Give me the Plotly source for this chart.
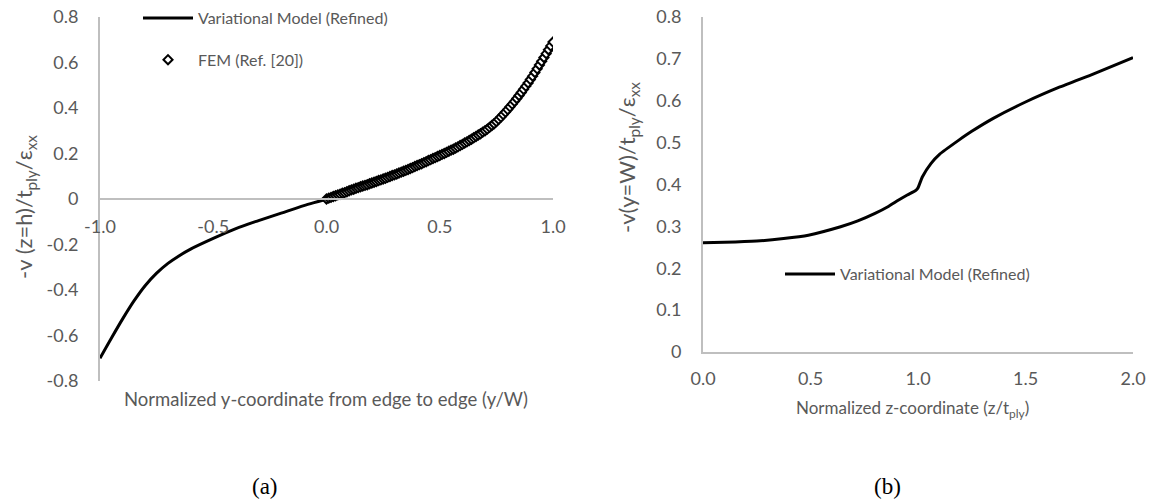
import plotly.graph_objects as go

# ---------------- data ----------------
# (a) Variational model, -v(z=h)/t_ply/eps_xx vs y/W
var_a_x = [-1.0, -0.95, -0.9, -0.85, -0.8, -0.75, -0.7, -0.65, -0.6, -0.5, -0.4, -0.3, -0.2, -0.1, 0.0,
           0.1, 0.2, 0.3, 0.4, 0.5, 0.6, 0.7, 0.75, 0.8, 0.85, 0.9, 0.95, 1.0]
var_a_y = [-0.700, -0.612, -0.527, -0.448, -0.380, -0.326, -0.283, -0.249, -0.220, -0.173, -0.130, -0.095, -0.062, -0.029, 0.000,
           0.036, 0.070, 0.106, 0.147, 0.191, 0.240, 0.300, 0.340, 0.393, 0.455, 0.525, 0.605, 0.690]

# (a) FEM (Ref. [20])
fem_x = [0.00, 0.01, 0.02, 0.03, 0.04, 0.05, 0.06, 0.07, 0.08, 0.09,
         0.10, 0.11, 0.12, 0.13, 0.14, 0.15, 0.16, 0.17, 0.18, 0.19,
         0.20, 0.21, 0.22, 0.23, 0.24, 0.25, 0.26, 0.27, 0.28, 0.29,
         0.30, 0.31, 0.32, 0.33, 0.34, 0.35, 0.36, 0.37, 0.38, 0.39,
         0.40, 0.41, 0.42, 0.43, 0.44, 0.45, 0.46, 0.47, 0.48, 0.49,
         0.50, 0.51, 0.52, 0.53, 0.54, 0.55, 0.56, 0.57, 0.58, 0.59,
         0.60, 0.61, 0.62, 0.63, 0.64, 0.65, 0.66, 0.67, 0.68, 0.69,
         0.70, 0.71, 0.72, 0.73, 0.74, 0.75, 0.76, 0.77, 0.78, 0.79,
         0.80, 0.81, 0.82, 0.83, 0.84, 0.85, 0.86, 0.87, 0.88, 0.89,
         0.90, 0.91, 0.92, 0.93, 0.94, 0.95, 0.96, 0.97, 0.98, 0.99, 1.00]
fem_y = [0.000, 0.004, 0.007, 0.011, 0.014, 0.018, 0.021, 0.025, 0.028, 0.032,
         0.036, 0.040, 0.043, 0.047, 0.050, 0.054, 0.057, 0.060, 0.063, 0.067,
         0.070, 0.074, 0.077, 0.081, 0.084, 0.088, 0.091, 0.095, 0.099, 0.103,
         0.106, 0.110, 0.114, 0.118, 0.122, 0.126, 0.130, 0.134, 0.138, 0.143,
         0.147, 0.151, 0.155, 0.160, 0.164, 0.169, 0.173, 0.178, 0.182, 0.187,
         0.191, 0.196, 0.200, 0.205, 0.210, 0.215, 0.219, 0.224, 0.229, 0.235,
         0.240, 0.246, 0.251, 0.257, 0.263, 0.269, 0.275, 0.281, 0.287, 0.294,
         0.300, 0.307, 0.315, 0.323, 0.331, 0.340, 0.350, 0.360, 0.371, 0.382,
         0.393, 0.405, 0.417, 0.429, 0.442, 0.455, 0.468, 0.482, 0.496, 0.510,
         0.525, 0.540, 0.556, 0.572, 0.589, 0.605, 0.622, 0.639, 0.656, 0.673, 0.690]

# (b) Variational model, -v(y=W)/t_ply/eps_xx vs z/t_ply
var_b_x = [0.0, 0.1, 0.25, 0.375, 0.49, 0.64, 0.72, 0.80, 0.86, 0.91, 0.95, 0.99, 1.0, 1.02, 1.06, 1.1, 1.19, 1.25,
           1.35, 1.5, 1.66, 1.82, 2.0]
var_b_y = [0.261, 0.262, 0.265, 0.271, 0.279, 0.299, 0.313, 0.331, 0.347, 0.363, 0.375, 0.386, 0.392, 0.418, 0.450, 0.472,
           0.506, 0.527, 0.558, 0.597, 0.633, 0.665, 0.703]

# tick labels
a_xticks = [-1.0, -0.5, 0.0, 0.5, 1.0]
a_xlabels = ["-1.0", "-0.5", "0.0", "0.5", "1.0"]
a_yticks = [-0.8, -0.6, -0.4, -0.2, 0.0, 0.2, 0.4, 0.6, 0.8]
a_ylabels = ["-0.8", "-0.6", "-0.4", "-0.2", "0", "0.2", "0.4", "0.6", "0.8"]
b_xticks = [0.0, 0.5, 1.0, 1.5, 2.0]
b_xlabels = ["0.0", "0.5", "1.0", "1.5", "2.0"]
b_yticks = [0.0, 0.1, 0.2, 0.3, 0.4, 0.5, 0.6, 0.7, 0.8]
b_ylabels = ["0", "0.1", "0.2", "0.3", "0.4", "0.5", "0.6", "0.7", "0.8"]

# ---------------- figure ----------------
W, H = 1151, 502
FONT = "Lato"
GRAY = "#595959"
AXC = "#BFBFBF"

def px_x(p):
    return p / W

def px_y(p):
    return 1 - p / H

fig = go.Figure()
fig.add_trace(go.Scatter(x=var_a_x, y=var_a_y, mode="lines", name="Variational Model (Refined)",
                         line=dict(color="black", width=3, shape="spline", smoothing=0.8),
                         xaxis="x", yaxis="y", legend="legend", legendgroup="a1"))
fig.add_trace(go.Scatter(x=fem_x, y=fem_y, mode="markers", name="FEM (Ref. [20])",
                         marker=dict(symbol="diamond", size=7, color="white",
                                     line=dict(color="black", width=2)),
                         xaxis="x", yaxis="y", legend="legend", legendgroup="a2"))
fig.add_trace(go.Scatter(x=var_b_x, y=var_b_y, mode="lines", name="Variational Model (Refined)",
                         line=dict(color="black", width=3, shape="spline", smoothing=0.5),
                         xaxis="x2", yaxis="y2", legend="legend2"))

ya_dom = [px_y(381), px_y(17)]
yb_dom = [px_y(352), px_y(17)]
tickfont = dict(family=FONT, size=18, color=GRAY)
common = dict(showgrid=False, zeroline=False, showline=True, linecolor=AXC, linewidth=2,
              ticks="outside", tickcolor="rgba(0,0,0,0)", tickfont=tickfont, automargin=False,
              fixedrange=True)

fig.update_layout(
    width=W, height=H,
    margin=dict(l=0, r=0, t=0, b=0),
    paper_bgcolor="white", plot_bgcolor="white",
    font=dict(family=FONT, color=GRAY),
    xaxis=dict(domain=[px_x(100), px_x(553)], range=[-1, 1], anchor="free",
               position=(ya_dom[0] + ya_dom[1]) / 2, tickvals=a_xticks, ticktext=a_xlabels,
               ticklen=11, **common),
    yaxis=dict(domain=ya_dom, range=[-0.8, 0.8], anchor="x", tickvals=a_yticks, ticktext=a_ylabels,
               ticklen=16, **common),
    xaxis2=dict(domain=[px_x(703), px_x(1133)], range=[0, 2], anchor="y2",
                tickvals=b_xticks, ticktext=b_xlabels, ticklen=9, **common),
    yaxis2=dict(domain=yb_dom, range=[0, 0.8], anchor="x2", tickvals=b_yticks, ticktext=b_ylabels,
                ticklen=16, **common),
    legend=dict(x=px_x(138), y=px_y(1), xanchor="left", yanchor="top", bgcolor="rgba(0,0,0,0)",
                font=dict(family=FONT, size=16, color=GRAY), tracegroupgap=18, itemwidth=50,
                traceorder="grouped"),
    legend2=dict(x=px_x(780), y=px_y(274), xanchor="left", yanchor="middle", bgcolor="rgba(0,0,0,0)",
                 font=dict(family=FONT, size=16, color=GRAY), itemwidth=50),
    showlegend=True,
)

ann = [
    dict(text="-v (z=h)/t<sub>ply</sub>/ε<sub>xx</sub>", x=px_x(25), y=px_y(207), textangle=-90,
         font=dict(family=FONT, size=22, color=GRAY)),
    dict(text="-v(y=W)/t<sub>ply</sub>/ε<sub>xx</sub>", x=px_x(628), y=px_y(158), textangle=-90,
         font=dict(family=FONT, size=22, color=GRAY)),
    dict(text="Normalized y-coordinate from edge to edge (y/W)", x=px_x(326), y=px_y(399),
         font=dict(family=FONT, size=18.5, color=GRAY)),
    dict(text="Normalized z-coordinate (z/t<sub>ply</sub>)", x=px_x(912), y=px_y(409),
         font=dict(family=FONT, size=17, color=GRAY)),
    dict(text="(a)", x=px_x(265), y=px_y(486), font=dict(family="Liberation Serif", size=23, color="black")),
    dict(text="(b)", x=px_x(887), y=px_y(486), font=dict(family="Liberation Serif", size=23, color="black")),
]
for a in ann:
    a.update(xref="paper", yref="paper", xanchor="center", yanchor="middle", showarrow=False)
fig.update_layout(annotations=ann)

fig.write_html("out.html", config={"displayModeBar": False},
               post_script="document.body.style.margin='0px';")
